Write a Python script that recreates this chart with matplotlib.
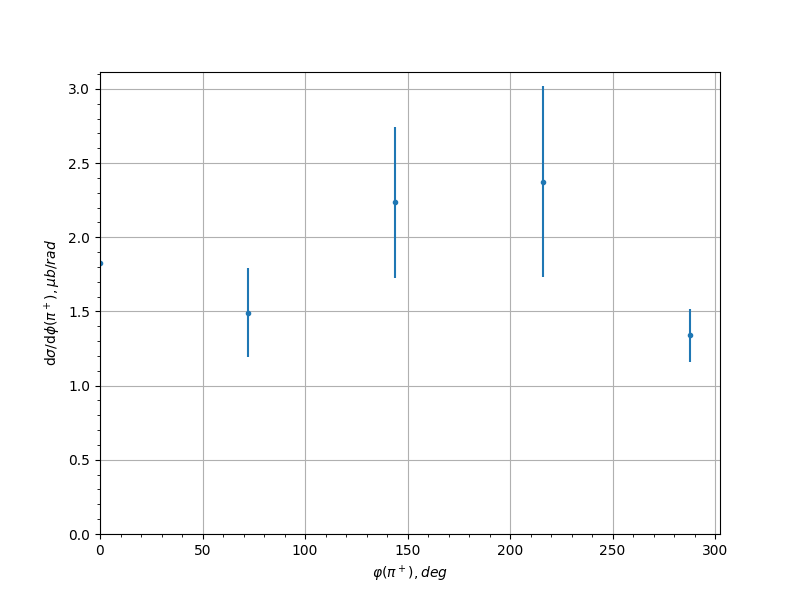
import numpy as np
import matplotlib.pyplot as plt

phi_deg = [0, 72, 144, 216, 288]
dsigma = [1.83, 1.49, 2.237, 2.375, 1.338]
dsigma_err = [0.0, 0.30, 0.509, 0.646, 0.178]

fig, ax = plt.subplots(figsize=(8, 6), dpi=100)
ax.errorbar(phi_deg, dsigma, yerr=dsigma_err, fmt='.')
ax.set_xlim(left=0)
ax.set_ylim(bottom=0)
ax.minorticks_on()
ax.grid(True)
ax.set_xlabel(r'$\varphi(\pi^+), deg$')
ax.set_ylabel(r'd$\sigma$/d$\phi(\pi^+), \mu b/rad$')

plt.savefig('out.png', dpi=100)
